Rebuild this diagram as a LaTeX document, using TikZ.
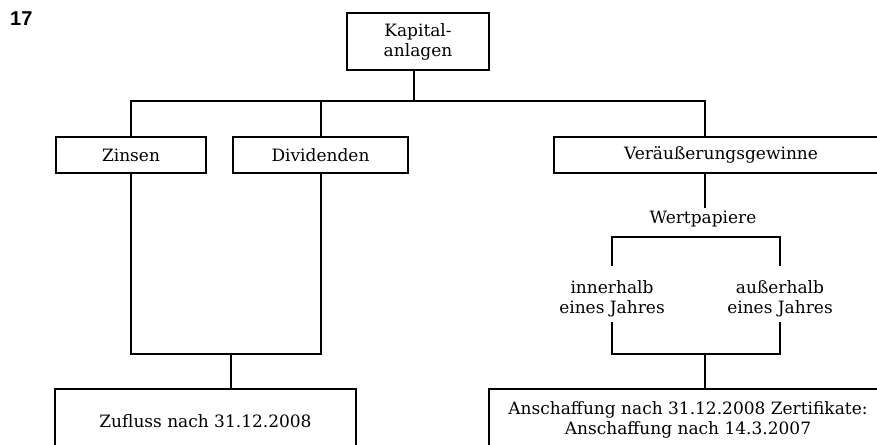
\documentclass[tikz,border=0pt]{standalone}
\usepackage{fontspec}
\setmainfont{DejaVu Serif}
\newfontfamily\numfont{Liberation Sans}
\usetikzlibrary{positioning}

\begin{document}
\begin{tikzpicture}[
  x=1pt, y=-1pt,
  every node/.style={font=\fontsize{17}{20}\selectfont},
  box/.style={rectangle, draw, line width=2pt, minimum height=36pt, align=center},
  plain/.style={rectangle, align=center, inner sep=3pt},
  link/.style={line width=2pt},
]
\useasboundingbox (0,0) rectangle (877,444);
\clip (0,0) rectangle (877,444);

\node[anchor=north west, inner sep=0pt, font=\numfont\bfseries\fontsize{20}{24}\selectfont] (num) at (10,12) {17};

\node[box, minimum width=142pt, minimum height=57pt] (kap) at (418,41.5) {Kapital-\\anlagen};
\node[box, minimum width=150pt] (zinsen) at (131,155) {Zinsen};
\node[box, minimum width=175pt, right=25pt of zinsen] (divid) {Dividenden};
\node[box, minimum width=334pt] (veraeu) at (721,155) {Veräußerungsgewinne};

\node[plain] (wert) at (703,219) {Wertpapiere};
\node[plain, inner ysep=5pt] (inner) at (612,298.5) {innerhalb\\eines Jahres};
\node[plain, inner ysep=5pt] (ausser) at (780,298.5) {außerhalb\\eines Jahres};

\node[box, minimum width=301pt, minimum height=64pt] (zufluss) at (205.5,421) {Zufluss nach 31.12.2008};
\node[box, minimum width=398pt, minimum height=62pt] (anschaff) at (688,420) {Anschaffung nach 31.12.2008 Zertifikate:\\Anschaffung nach 14.3.2007};

% upper tree
\coordinate (jkap) at (414,101);
\coordinate (jtop) at (705,101);
\draw[link] (kap.south -| jkap) -- (jkap);
\draw[link] (zinsen.north) |- (jtop) -- (veraeu.north -| jtop);
\draw[link] (divid.north) -- (divid.north |- jtop);

% left branch
\coordinate (jleft) at (231,354);
\draw[link] (zinsen.south) |- (jleft) -| (divid.south);
\draw[link] (jleft) -- (jleft |- zufluss.north);

% right branch
\coordinate (jwert) at (697,237);
\coordinate (jright) at (705,354);
\draw[link] (veraeu.south -| jtop) -- (wert.north -| jtop);
\draw[link] ([yshift=9pt]inner.north) |- (jwert) -| ([yshift=9pt]ausser.north);
\draw[link] (inner.south) |- (jright) -| (ausser.south);
\draw[link] (jright) -- (jright |- anschaff.north);

\end{tikzpicture}
\end{document}
